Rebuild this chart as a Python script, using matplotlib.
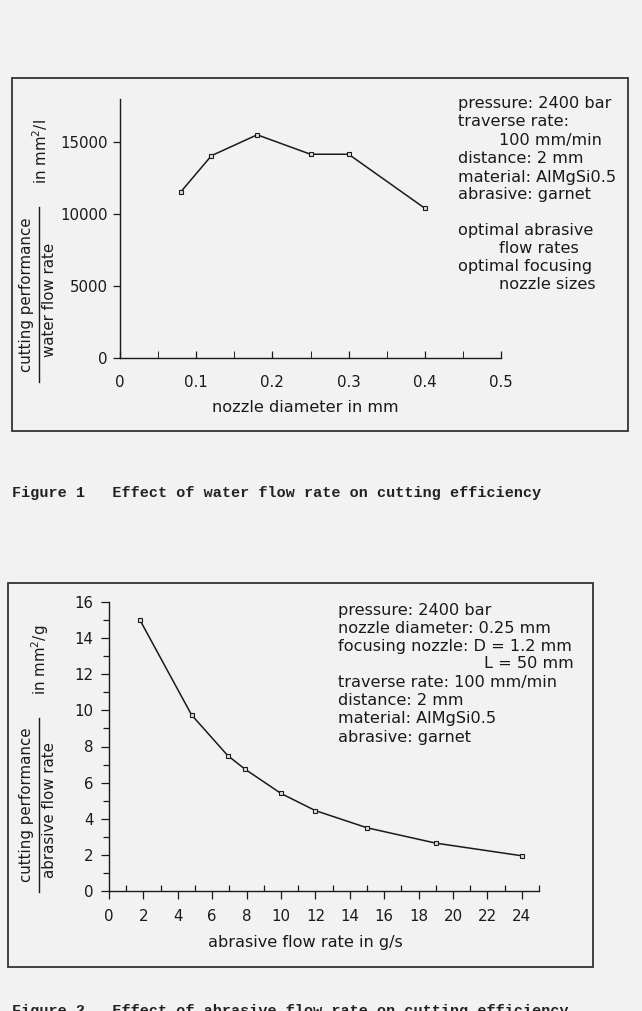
import matplotlib.pyplot as plt
from matplotlib.lines import Line2D
from matplotlib.patches import Rectangle
from matplotlib.ticker import MultipleLocator

# figure 1: water flow rate
nozzle_diam = [0.08, 0.12, 0.18, 0.25, 0.30, 0.40]
perf_per_water = [11550, 14050, 15500, 14150, 14150, 10400]
fig1_notes = ["pressure: 2400 bar", "traverse rate:", "        100 mm/min",
              "distance: 2 mm", "material: AlMgSi0.5", "abrasive: garnet",
              "optimal abrasive", "        flow rates", "optimal focusing",
              "        nozzle sizes"]

# figure 2: abrasive flow rate
abr_flow = [1.8, 4.8, 6.9, 7.9, 10.0, 12.0, 15.0, 19.0, 24.0]
perf_per_abr = [15.0, 9.75, 7.5, 6.75, 5.4, 4.45, 3.5, 2.65, 1.95]
fig2_notes = ["pressure: 2400 bar", "nozzle diameter: 0.25 mm",
              "focusing nozzle: D = 1.2 mm", "L = 50 mm",
              "traverse rate: 100 mm/min", "distance: 2 mm",
              "material: AlMgSi0.5", "abrasive: garnet"]

W, H = 642, 1011
plt.rcParams['font.family'] = ['DejaVu Sans']
INK = '#1a1a1a'


def fx(x):
    return x / W


def fy(y):
    return 1 - y / H


fig = plt.figure(figsize=(W / 100, H / 100), dpi=100, facecolor='#f2f2f2')


def frame(x0, y0, x1, y1):
    fig.patches.append(Rectangle((fx(x0), fy(y1)), fx(x1 - x0), (y1 - y0) / H,
                                 transform=fig.transFigure, fill=False,
                                 edgecolor='#333333', lw=1.3))


def ylabel(cx, top, bottom, upper, lower, unit, unit_y):
    mid = (top + bottom) / 2
    fig.text(fx(cx - 12), fy(mid), upper, rotation=90, ha='center', va='center',
             fontsize=10.8, color=INK)
    fig.text(fx(cx + 11), fy(mid + 5), lower, rotation=90, ha='center', va='center',
             fontsize=10.8, color=INK)
    fig.lines.append(Line2D([fx(cx), fx(cx)], [fy(top), fy(bottom)],
                            transform=fig.transFigure, color=INK, lw=1.0))
    fig.text(fx(cx + 1), fy(unit_y), unit, rotation=90, ha='center', va='center',
             fontsize=10.8, color=INK)


def style(ax):
    ax.set_facecolor('none')
    for s in ['top', 'right']:
        ax.spines[s].set_visible(False)
    for s in ['left', 'bottom']:
        ax.spines[s].set_color(INK)
        ax.spines[s].set_linewidth(1.0)
    ax.tick_params(colors=INK, labelsize=10.8, width=0.9)


# ---- figure 1 ----
frame(12, 78, 628, 431)
ax1 = fig.add_axes([fx(120), fy(358), 381 / W, 259.2 / H])
style(ax1)
ax1.plot(nozzle_diam, perf_per_water, color=INK, lw=1.1, marker='s', ms=3.5,
         mfc='#dddddd', mec=INK, mew=0.8, clip_on=False)
ax1.set_xlim(0, 0.5)
ax1.set_ylim(0, 18000)
ax1.set_xticks([0, 0.1, 0.2, 0.3, 0.4, 0.5])
ax1.set_xticklabels(['0', '0.1', '0.2', '0.3', '0.4', '0.5'])
ax1.xaxis.set_minor_locator(MultipleLocator(0.05))
ax1.set_yticks([0, 5000, 10000, 15000])
ax1.tick_params(axis='x', which='both', direction='in', length=5, pad=12)
ax1.tick_params(axis='y', direction='out', length=5, pad=4)
fig.text(fx(305), fy(408), "nozzle diameter in mm", ha='center', va='center',
         fontsize=11.6, color=INK)
ylabel(39, 207, 382, "cutting performance", "water flow rate",
       r"in mm$^2$/l", 152)
ys1 = [103, 121.5, 140, 158.3, 176.6, 194.5, 230, 248, 266, 284]
for i, line in enumerate(fig1_notes):
    fig.text(fx(458), fy(ys1[i] + 5), line, ha='left', va='baseline',
             fontsize=11.6, color=INK)

fig.text(fx(12), fy(497), "Figure 1   Effect of water flow rate on cutting efficiency",
         family='Liberation Mono', fontsize=10.9, weight='bold', color='#222222',
         ha='left', va='baseline')

# ---- figure 2 ----
frame(8, 583, 593, 967)
ax2 = fig.add_axes([fx(109), fy(891), 430 / W, 289 / H])
style(ax2)
ax2.plot(abr_flow, perf_per_abr, color=INK, lw=1.1, marker='s', ms=3.5,
         mfc='#dddddd', mec=INK, mew=0.8, clip_on=False)
ax2.set_xlim(0, 25)
ax2.set_ylim(0, 16)
ax2.set_xticks(range(0, 25, 2))
ax2.xaxis.set_minor_locator(MultipleLocator(1))
ax2.set_yticks(range(0, 17, 2))
ax2.yaxis.set_minor_locator(MultipleLocator(1))
ax2.tick_params(axis='x', which='major', direction='out', length=6, pad=7)
ax2.tick_params(axis='x', which='minor', direction='in', length=4, width=0.9,
                color=INK)
ax2.tick_params(axis='y', which='major', direction='out', length=6, pad=5)
ax2.tick_params(axis='y', which='minor', direction='out', length=4, width=0.9,
                color=INK)
fig.text(fx(305), fy(943), "abrasive flow rate in g/s", ha='center', va='center',
         fontsize=11.6, color=INK)
ylabel(39, 718, 892, "cutting performance", "abrasive flow rate",
       r"in mm$^2$/g", 660)
ys2 = [610, 628, 646, 663.5, 682, 700, 718.3, 737]
for i, line in enumerate(fig2_notes):
    if line.startswith("L ="):
        fig.text(fx(574), fy(ys2[i] + 5), line, ha='right', va='baseline',
                 fontsize=11.6, color=INK)
    else:
        fig.text(fx(338), fy(ys2[i] + 5), line, ha='left', va='baseline',
                 fontsize=11.6, color=INK)

# caption of figure 2 is cut by the bottom edge, as on the scanned page
fig.text(fx(12), fy(1015), "Figure 2   Effect of abrasive flow rate on cutting efficiency",
         family='Liberation Mono', fontsize=10.9, weight='bold', color='#222222',
         ha='left', va='baseline')

fig.savefig('out.png', dpi=100, facecolor=fig.get_facecolor())
